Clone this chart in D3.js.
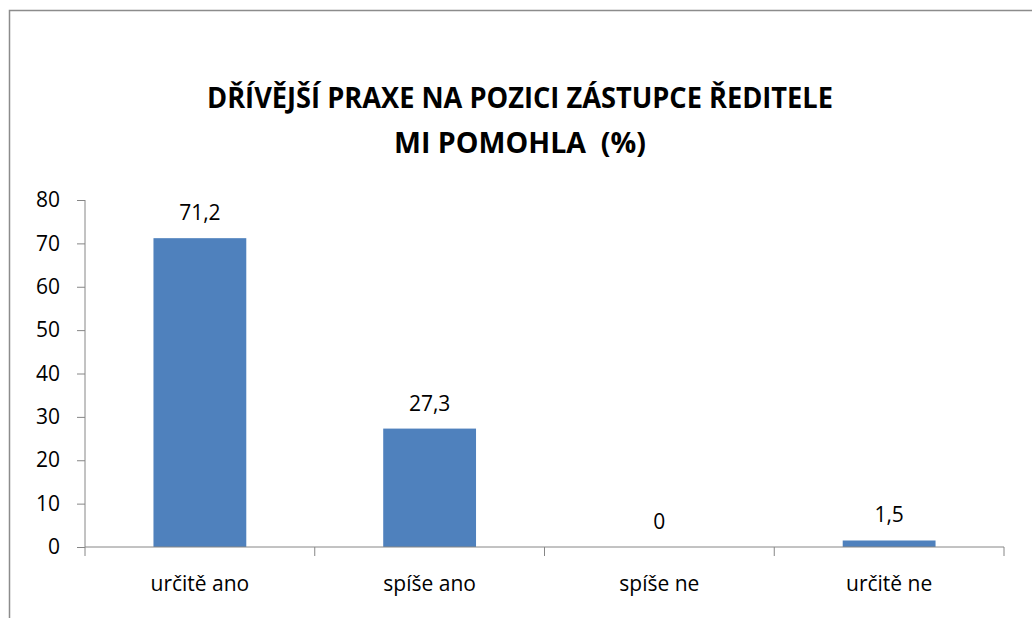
<!DOCTYPE html>
<html>
<head>
<meta charset="utf-8">
<script src="https://cdn.jsdelivr.net/npm/d3@7"></script>
<style>
  body { margin: 0; background: #fff; }
  svg text { font-family: "Open Sans", "Noto Sans", sans-serif; fill: #000; }
</style>
</head>
<body>
<div id="container"></div>
<script>
// data
const categories = ["určitě ano", "spíše ano", "spíše ne", "určitě ne"];
const values = [71.2, 27.3, 0, 1.5];
const valueLabels = ["71,2", "27,3", "0", "1,5"];
const yTicks = [0, 10, 20, 30, 40, 50, 60, 70, 80];
const titleLines = ["DŘÍVĚJŠÍ PRAXE NA POZICI ZÁSTUPCE ŘEDITELE", "MI POMOHLA  (%)"];

const W = 1032, H = 618;
const plot = {left: 85, right: 1004, top: 200, bottom: 547};

const svg = d3.select("#container").append("svg")
  .attr("width", W)
  .attr("height", H);

// outer chart frame (runs off right and bottom)
svg.append("rect")
  .attr("x", 9.5).attr("y", 10.5)
  .attr("width", W + 20).attr("height", H + 20)
  .attr("fill", "none")
  .attr("stroke", "#8c8c8c")
  .attr("stroke-width", 1.5);

// title
svg.append("g").selectAll("text")
  .data(titleLines)
  .join("text")
  .attr("x", 520)
  .attr("y", (d, i) => 108 + i * 45)
  .attr("text-anchor", "middle")
  .style("font-weight", "bold")
  .style("font-size", "29px")
  .style("white-space", "pre")
  .attr("textLength", (d, i) => i === 0 ? 626 : 252)
  .attr("lengthAdjust", "spacingAndGlyphs")
  .text(d => d);

const x = d3.scaleBand()
  .domain(categories)
  .range([plot.left, plot.right])
  .paddingInner(0.596)
  .paddingOuter(0.298);

const xb = d3.scaleBand().domain(categories).range([plot.left, plot.right]);

const y = d3.scaleLinear()
  .domain([0, 80])
  .range([plot.bottom, plot.top]);

// y axis
const yAxis = svg.append("g")
  .attr("transform", `translate(${plot.left},0)`)
  .call(d3.axisLeft(y).tickValues(yTicks).tickSize(8).tickPadding(17).tickSizeOuter(0));
yAxis.select(".domain").attr("stroke", "#868686").attr("d", `M0,${plot.top}V${plot.bottom + 9}`);
yAxis.selectAll(".tick line").attr("stroke", "#868686");
yAxis.selectAll(".tick text")
  .style("font-size", "21px")
  .style("font-family", "'Open Sans', sans-serif")
  .attr("fill", "#000");

// bars
svg.append("g").selectAll("rect")
  .data(values)
  .join("rect")
  .attr("x", (d, i) => x(categories[i]))
  .attr("width", x.bandwidth())
  .attr("y", d => y(d))
  .attr("height", d => y(0) - y(d))
  .attr("fill", "#4f81bd");

// value labels
svg.append("g").selectAll("text")
  .data(values)
  .join("text")
  .attr("x", (d, i) => x(categories[i]) + x.bandwidth() / 2)
  .attr("y", d => y(d) - 18)
  .attr("text-anchor", "middle")
  .style("font-size", "21px")
  .text((d, i) => valueLabels[i]);

// x axis line with boundary ticks
const xAxis = svg.append("g");
xAxis.append("line")
  .attr("x1", plot.left).attr("x2", plot.right)
  .attr("y1", y(0)).attr("y2", y(0))
  .attr("stroke", "#868686");
xAxis.selectAll(".bt")
  .data(categories.slice(1).concat(["end"]))
  .join("line")
  .attr("class", "bt")
  .attr("x1", (d, i) => i < 3 ? xb(d) : plot.right)
  .attr("x2", (d, i) => i < 3 ? xb(d) : plot.right)
  .attr("y1", y(0)).attr("y2", y(0) + 9)
  .attr("stroke", "#868686");
xAxis.selectAll("text")
  .data(categories)
  .join("text")
  .attr("x", d => xb(d) + xb.bandwidth() / 2)
  .attr("y", 591)
  .attr("text-anchor", "middle")
  .style("font-size", "21px")
  .text(d => d);
</script>
</body>
</html>
